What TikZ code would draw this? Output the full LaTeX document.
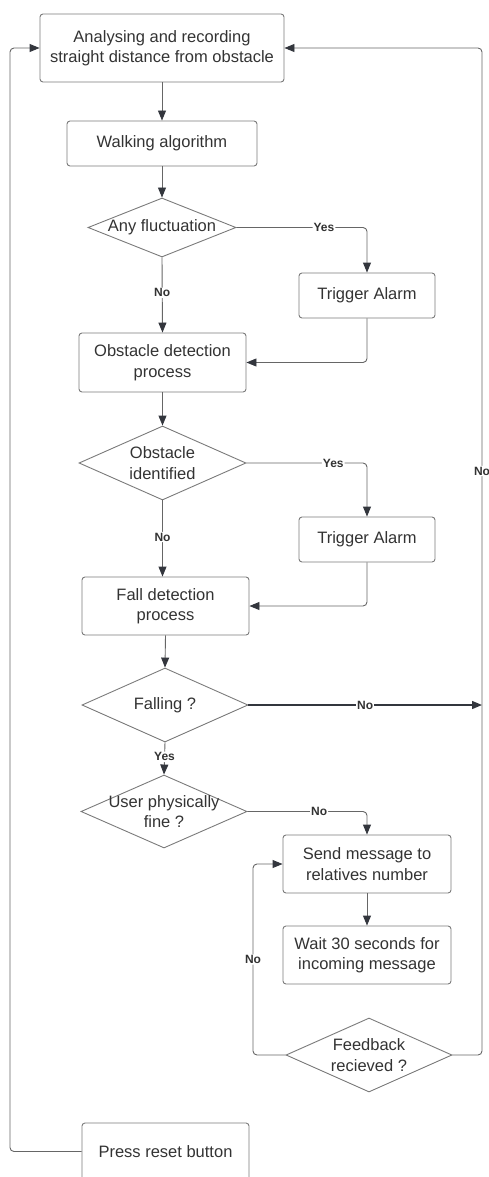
\documentclass[tikz,border=0pt]{standalone}
\usepackage{fontspec}
\setmainfont{Liberation Sans}
\usetikzlibrary{shapes.geometric,arrows.meta}
\definecolor{txtc}{HTML}{333333}
\definecolor{boxc}{HTML}{7A7A7A}
\definecolor{linec}{HTML}{666666}
\definecolor{tipc}{HTML}{33363D}
\begin{document}
\begin{tikzpicture}[x=1pt,y=-1pt,
  proc/.style={draw=boxc, line width=0.9pt, rounded corners=3pt, align=center, inner sep=0pt,
    font=\fontsize{16.5}{20.5}\selectfont, text=txtc},
  dia/.style={draw=boxc, line width=0.9pt, diamond, inner sep=0pt},
  dtxt/.style={align=center, inner sep=0pt, font=\fontsize{16.5}{20.5}\selectfont, text=txtc},
  conn/.style={draw=linec, line width=0.9pt, rounded corners=4pt,
    -{Triangle[length=10pt,width=8pt,fill=tipc,color=tipc]}},
  fallno/.style={draw=tipc, line width=1.4pt,
    -{Triangle[length=10pt,width=8pt,fill=tipc,color=tipc]}},
  lab/.style={fill=white, inner sep=1pt, font=\bfseries\fontsize{12}{14}\selectfont, text=txtc}
]
\useasboundingbox (0,0) rectangle (488,1177);

\node[proc, minimum width=244pt, minimum height=68pt] (a) at (162,48) {Analysing and recording\\straight distance from obstacle};
\node[proc, minimum width=190pt, minimum height=45pt] (w) at (162,143.5) {Walking algorithm};
\node[dia, minimum width=148pt, minimum height=59pt, label={[dtxt]center:Any fluctuation}] (d1) at (162,227.5) {};
\node[proc, minimum width=136pt, minimum height=45pt] (t1) at (367,295.5) {Trigger Alarm};
\node[proc, minimum width=167pt, minimum height=59pt] (o) at (162.5,362.5) {Obstacle detection\\process};
\node[dia, minimum width=167pt, minimum height=74pt, label={[dtxt]center:{Obstacle\\identified}}] (d2) at (162.5,463) {};
\node[proc, minimum width=136pt, minimum height=45pt] (t2) at (367,539.5) {Trigger Alarm};
\node[proc, minimum width=167pt, minimum height=58pt] (f) at (165.5,606) {Fall detection\\process};
\node[dia, minimum width=166pt, minimum height=74pt, label={[dtxt]center:Falling ?}] (d3) at (165,705) {};
\node[dia, minimum width=166pt, minimum height=73pt, label={[dtxt]center:{User physically\\fine ?}}] (d4) at (164,811.5) {};
\node[proc, minimum width=168pt, minimum height=58pt] (s) at (367,864) {Send message to\\relatives number};
\node[proc, minimum width=168pt, minimum height=58pt] (wt) at (367,955) {Wait 30 seconds for\\incoming message};
\node[dia, minimum width=166pt, minimum height=74pt, label={[dtxt]center:{Feedback\\recieved ?}}] (d5) at (369,1055) {};
\node[proc, minimum width=167pt, minimum height=57pt] (r) at (165.5,1151.5) {Press reset button};

\coordinate (fr) at (482,705);
\coordinate (fbL) at (253,1055);
\coordinate (fbR) at (482,1055);
\coordinate (lL) at (10,1151.5);

\draw[conn] (a.south) -- (w.north);
\draw[conn] (w.south) -- (d1.north);
\draw[conn] (d1.east) -| node[lab, pos=0.335]{Yes} (t1.north);
\draw[conn] (d1.south) -- node[lab, pos=0.47]{No} (o.north);
\draw[conn] (t1.south) |- (o.east);
\draw[conn] (o.south) -- (d2.north);
\draw[conn] (d2.east) -| node[lab, pos=0.36]{Yes} (t2.north);
\draw[conn] (d2.south) -- node[lab, pos=0.48]{No} (d2.south |- f.north);
\draw[conn] (t2.south) |- (f.east);
\draw[conn] (f.south) -- (d3.north);
\draw[fallno] (d3.east) -- node[lab]{No} (fr);
\draw[conn] (d3.south) -- node[lab, pos=0.45]{Yes} (d4.north);
\draw[conn] (d4.east) -| node[lab, pos=0.3]{No} (s.north);
\draw[conn] (s.south) -- (wt.north);
\draw[conn] (d5.west) -- (fbL) |- node[lab, pos=0.25]{No} (s.west);
\draw[conn] (d5.east) -- (fbR) |- node[lab, pos=0.29]{No} (a.east);
\draw[conn] (r.west) -- (lL) |- (a.west);
\end{tikzpicture}
\end{document}
